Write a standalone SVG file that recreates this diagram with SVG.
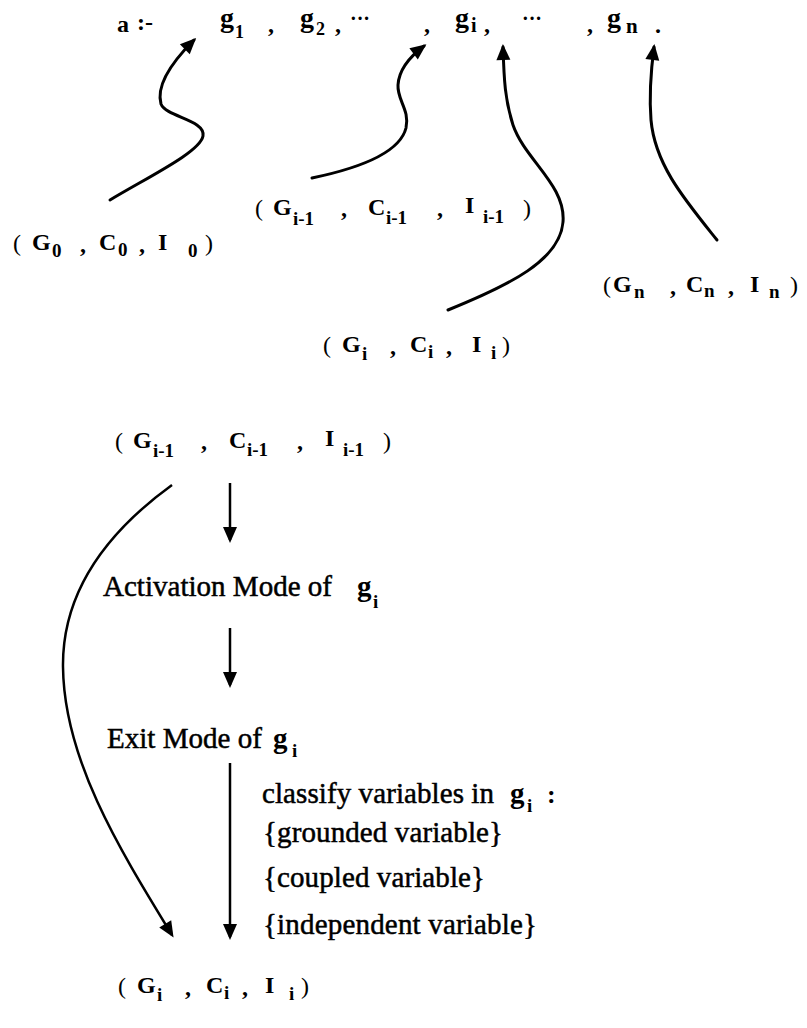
<svg xmlns="http://www.w3.org/2000/svg" width="807" height="1028" viewBox="0 0 807 1028">
<style>
.t{font-family:"Liberation Serif","DejaVu Serif",serif;fill:#000}
.b{font-weight:bold}
.w{font-size:29px;font-weight:normal;stroke:#000;stroke-width:0.5}
.m{font-size:24px;font-weight:bold}
.s{font-size:19px}
.p{font-weight:normal}
.ln{fill:none;stroke:#000;stroke-width:3;stroke-linecap:round}
.ln2{fill:none;stroke:#000;stroke-width:2.5}
</style>
<defs>
<marker id="ah" viewBox="-17 -8 18 16" markerWidth="18" markerHeight="16" refX="-3" refY="0" orient="auto" markerUnits="userSpaceOnUse">
<path d="M0,0 L-16,-7 L-16,7 Z" fill="#000"/>
</marker>
</defs>
<rect width="807" height="1028" fill="#fff"/>

<g id="formula">
<text class="t b"><tspan x="117" y="32" style="font-size:24px">a</tspan><tspan x="137" y="30" style="font-size:24px">:-</tspan><tspan x="220" y="27" style="font-size:28px">g</tspan><tspan x="235" y="38" style="font-size:18px">1</tspan><tspan x="268" y="32" style="font-size:24px">,</tspan><tspan x="300" y="27" style="font-size:28px">g</tspan><tspan x="316" y="35" style="font-size:18px">2</tspan><tspan x="335" y="32" style="font-size:24px">,</tspan><tspan x="350" y="25" style="font-size:20px">···</tspan><tspan x="424" y="32" style="font-size:24px">,</tspan><tspan x="455" y="27" style="font-size:28px">g</tspan><tspan x="471" y="32" style="font-size:20px">i</tspan><tspan x="484" y="32" style="font-size:24px">,</tspan><tspan x="522" y="25" style="font-size:20px">···</tspan><tspan x="587" y="32" style="font-size:24px">,</tspan><tspan x="607" y="27" style="font-size:28px">g</tspan><tspan x="626" y="33" style="font-size:21px">n</tspan><tspan x="655" y="33" style="font-size:24px">.</tspan></text>
</g>

<g id="node-t0">
<text class="t m"><tspan class="p" x="13" y="251">(</tspan><tspan x="32" y="250">G</tspan><tspan class="s" x="52" y="257">0</tspan><tspan x="80" y="252">,</tspan><tspan x="99" y="250">C</tspan><tspan class="s" x="118" y="256">0</tspan><tspan x="139" y="252">,</tspan><tspan x="158" y="250">I</tspan><tspan class="s" x="188" y="257">0</tspan><tspan class="p" x="205" y="251">)</tspan></text>
</g>

<g id="node-tim1-top">
<text class="t m"><tspan class="p" x="255" y="216">(</tspan><tspan x="273" y="215">G</tspan><tspan class="s" x="293" y="225">i-1</tspan><tspan x="341" y="216">,</tspan><tspan x="368" y="215">C</tspan><tspan class="s" x="386" y="224">i-1</tspan><tspan x="437" y="216">,</tspan><tspan x="465" y="213">I</tspan><tspan class="s" x="483" y="223">i-1</tspan><tspan class="p" x="523" y="216">)</tspan></text>
</g>

<g id="node-tn">
<text class="t m"><tspan class="p" x="603" y="293">(</tspan><tspan x="613" y="292">G</tspan><tspan class="s" x="634" y="298">n</tspan><tspan x="670" y="294">,</tspan><tspan x="686" y="292">C</tspan><tspan class="s" x="704" y="297">n</tspan><tspan x="728" y="294">,</tspan><tspan x="750" y="292">I</tspan><tspan class="s" x="769" y="298">n</tspan><tspan class="p" x="790" y="293">)</tspan></text>
</g>

<g id="node-ti-top">
<text class="t m"><tspan class="p" x="323" y="353">(</tspan><tspan x="342" y="352">G</tspan><tspan class="s" x="362" y="360">i</tspan><tspan x="390" y="354">,</tspan><tspan x="410" y="352">C</tspan><tspan class="s" x="428" y="358">i</tspan><tspan x="446" y="354">,</tspan><tspan x="472" y="352">I</tspan><tspan class="s" x="491" y="359">i</tspan><tspan class="p" x="502" y="353">)</tspan></text>
</g>

<g id="node-tim1">
<text class="t m"><tspan class="p" x="115" y="449">(</tspan><tspan x="133" y="448">G</tspan><tspan class="s" x="153" y="457">i-1</tspan><tspan x="201" y="449">,</tspan><tspan x="229" y="448">C</tspan><tspan class="s" x="247" y="456">i-1</tspan><tspan x="297" y="449">,</tspan><tspan x="325" y="446">I</tspan><tspan class="s" x="343" y="456">i-1</tspan><tspan class="p" x="383" y="449">)</tspan></text>
</g>

<g id="node-activation">
<text class="t w" x="103" y="596" textLength="229" lengthAdjust="spacing">Activation Mode of</text>
<text class="t b"><tspan x="357" y="596" style="font-size:29px">g</tspan><tspan x="373" y="608" style="font-size:19px">i</tspan></text>
</g>

<g id="node-exit">
<text class="t w" x="107" y="748" textLength="155" lengthAdjust="spacing">Exit Mode of</text>
<text class="t b"><tspan x="273" y="748" style="font-size:29px">g</tspan><tspan x="292" y="757" style="font-size:19px">i</tspan></text>
</g>

<g id="node-classify">
<text class="t w" x="262" y="803" textLength="232" lengthAdjust="spacing">classify variables in</text>
<text class="t b"><tspan x="510" y="803" style="font-size:29px">g</tspan><tspan x="527" y="812" style="font-size:19px">i</tspan><tspan x="547" y="803" style="font-size:26px">:</tspan></text>
<text class="t w" x="263" y="842" textLength="240" lengthAdjust="spacing">{grounded variable}</text>
<text class="t w" x="263" y="887" textLength="222" lengthAdjust="spacing">{coupled variable}</text>
<text class="t w" x="263" y="934" textLength="274" lengthAdjust="spacing">{independent variable}</text>
</g>

<g id="node-ti-bottom">
<text class="t m"><tspan class="p" x="118" y="994">(</tspan><tspan x="137" y="993">G</tspan><tspan class="s" x="157" y="1001">i</tspan><tspan x="185" y="995">,</tspan><tspan x="206" y="993">C</tspan><tspan class="s" x="224" y="999">i</tspan><tspan x="242" y="995">,</tspan><tspan x="265" y="993">I</tspan><tspan class="s" x="289" y="1000">i</tspan><tspan class="p" x="301" y="994">)</tspan></text>
</g>

<g id="connectors">
<path class="ln" d="M110,200 C150,176 200,152 203,136 C206,120 166,117 161,104 C156,86 172,62 194,40" marker-end="url(#ah)"/>
<path class="ln" d="M312,178 C360,168 400,152 406,128 C410,110 397,100 398,85 C399,68 412,55 424,46" marker-end="url(#ah)"/>
<path class="ln" d="M448,310 C510,285 560,260 563,222 C566,185 525,160 513,125 C505,100 504,80 503,47" marker-end="url(#ah)"/>
<path class="ln" d="M717,240 C685,200 655,165 651,120 C649,95 651,70 654,47" marker-end="url(#ah)"/>
<path class="ln2" d="M172,485 C110,530 62,590 63,667 C64,760 120,850 172,935" marker-end="url(#ah)"/>
<path class="ln2" d="M230,483 L230,540" marker-end="url(#ah)"/>
<path class="ln2" d="M230,628 L230,685" marker-end="url(#ah)"/>
<path class="ln2" d="M230,763 L230,937" marker-end="url(#ah)"/>
</g>
</svg>
